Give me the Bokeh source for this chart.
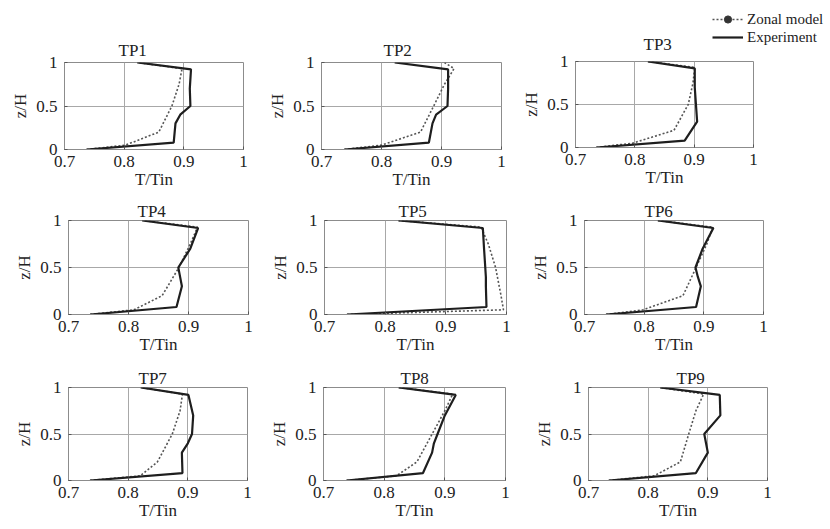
from bokeh.plotting import figure
from bokeh.layouts import column, row
from bokeh.models import Range1d, FixedTicker, CustomJSTickFormatter, Legend, LegendItem, Label
from bokeh.embed import file_html
from bokeh.resources import INLINE

# ---------------- data ----------------
titles = ["TP1", "TP2", "TP3", "TP4", "TP5", "TP6", "TP7", "TP8", "TP9"]
x_label = "T/Tin"
y_label = "z/H"
legend_labels = ["Zonal model", "Experiment"]
x_ticks = [0.7, 0.8, 0.9, 1.0]
y_ticks = [0.0, 0.5, 1.0]

# heights (z/H) of the points of each series
z_exp = [0.0, 0.08, 0.3, 0.4, 0.5, 0.7, 0.92, 1.0]
z_zon = [0.0, 0.05, 0.2, 0.5, 0.75, 0.93, 1.0]

# T/Tin, experiment
exp_tp1 = [0.737, 0.883, 0.886, 0.894, 0.911, 0.910, 0.912, 0.822]
exp_tp2 = [0.738, 0.879, 0.885, 0.891, 0.910, 0.911, 0.911, 0.822]
exp_tp3 = [0.735, 0.884, 0.905, 0.904, 0.903, 0.901, 0.901, 0.822]
exp_tp4 = [0.736, 0.880, 0.889, 0.886, 0.883, 0.903, 0.916, 0.823]
exp_tp5 = [0.737, 0.967, 0.966, 0.966, 0.965, 0.963, 0.961, 0.822]
exp_tp6 = [0.736, 0.887, 0.895, 0.890, 0.886, 0.898, 0.916, 0.823]
exp_tp7 = [0.736, 0.891, 0.890, 0.900, 0.907, 0.909, 0.901, 0.821]
exp_tp8 = [0.738, 0.864, 0.879, 0.882, 0.888, 0.900, 0.918, 0.824]
exp_tp9 = [0.734, 0.880, 0.900, 0.897, 0.894, 0.921, 0.920, 0.820]

# T/Tin, zonal model
zon_tp1 = [0.737, 0.802, 0.858, 0.880, 0.892, 0.897, 0.822]
zon_tp2 = [0.738, 0.800, 0.865, 0.887, 0.905, 0.921, 0.905]
zon_tp3 = [0.735, 0.796, 0.866, 0.890, 0.898, 0.901, 0.822]
zon_tp4 = [0.736, 0.809, 0.856, 0.884, 0.903, 0.915, 0.823]
zon_tp5 = [0.737, 0.995, 0.991, 0.982, 0.970, 0.958, 0.822]
zon_tp6 = [0.736, 0.798, 0.865, 0.887, 0.905, 0.915, 0.823]
zon_tp7 = [0.736, 0.820, 0.849, 0.874, 0.887, 0.891, 0.821]
zon_tp8 = [0.738, 0.820, 0.854, 0.879, 0.900, 0.913, 0.824]
zon_tp9 = [0.734, 0.810, 0.854, 0.868, 0.880, 0.893, 0.820]

exp_all = [exp_tp1, exp_tp2, exp_tp3, exp_tp4, exp_tp5, exp_tp6, exp_tp7, exp_tp8, exp_tp9]
zon_all = [zon_tp1, zon_tp2, zon_tp3, zon_tp4, zon_tp5, zon_tp6, zon_tp7, zon_tp8, zon_tp9]

# ------- layout (left, frame_w, right, top, frame_h, bottom, title_offset, title_standoff) -------
STRIP_H = 53
geom = [
    (64, 179, 19, 62, 87, 46, 54, 5),
    (59, 180, 17, 62, 87, 46, 62, 5),
    (57, 178, 77, 61 - STRIP_H, 86, 48, 0, 0),   # title of panel 3 sits in the strip above
    (68, 180, 16, 25, 94, 46, 69, 0),
    (60, 182, 22, 25, 94, 46, 74, 0),
    (54, 179, 69, 25, 94, 46, 60, 0),
    (68, 179, 18, 27, 93, 49, 70, 0),
    (58, 182, 27, 27, 93, 49, 77, 0),
    (55, 179, 64, 27, 93, 49, 88, 0),
]

FONT = "Liberation Serif"
TXT = "#222222"
ZON_STYLE = dict(line_color="#555555", line_width=1.6, line_dash="2 2")
EXP_STYLE = dict(line_color="#1e1e1e", line_width=2.2)
fmt_code = "return String(parseFloat(tick.toFixed(2)));"


def style_title(t, text, offset, standoff):
    t.text = text
    t.align = "left"
    t.offset = offset
    t.standoff = standoff
    t.text_font = FONT
    t.text_font_size = "17px"
    t.text_font_style = "normal"
    t.text_color = TXT


def blank(fig):
    fig.outline_line_color = None
    fig.background_fill_color = "white"
    fig.border_fill_color = "white"
    fig.xgrid.visible = False
    fig.ygrid.visible = False


figs = []
for i in range(9):
    L, FW, R, T, FH, B, toff, tst = geom[i]
    p = figure(frame_width=FW, frame_height=FH, output_backend="svg", toolbar_location=None,
               x_range=Range1d(0.7, 1.0), y_range=Range1d(0.0, 1.0),
               min_border_left=L, min_border_right=R, min_border_top=T, min_border_bottom=B)
    if i != 2:
        style_title(p.title, titles[i], toff, tst)

    p.background_fill_color = "white"
    p.border_fill_color = "white"
    p.outline_line_color = "#8c8c8c"
    p.outline_line_width = 1

    for ax, ticks, lab in ((p.xaxis[0], x_ticks, x_label), (p.yaxis[0], y_ticks, y_label)):
        ax.ticker = FixedTicker(ticks=ticks)
        ax.formatter = CustomJSTickFormatter(code=fmt_code)
        ax.axis_label = lab
        ax.axis_label_text_font = FONT
        ax.axis_label_text_font_size = "17px"
        ax.axis_label_text_font_style = "normal"
        ax.axis_label_text_color = TXT
        ax.major_label_text_font = FONT
        ax.major_label_text_font_size = "17px"
        ax.major_label_text_color = TXT
        ax.axis_line_color = "#8c8c8c"
        ax.major_tick_line_color = "#555555"
        ax.major_tick_in = 3
        ax.major_tick_out = 0
        ax.minor_tick_line_color = None
    p.xaxis.major_label_standoff = 6
    p.xaxis.axis_label_standoff = 0
    p.yaxis.major_label_standoff = 7
    p.yaxis.axis_label_standoff = 3

    p.xgrid.ticker = FixedTicker(ticks=x_ticks)
    p.ygrid.ticker = FixedTicker(ticks=y_ticks)
    for g in (p.xgrid[0], p.ygrid[0]):
        g.grid_line_color = "#a8a8a8"
        g.grid_line_width = 1

    p.line(zon_all[i], z_zon, **ZON_STYLE)
    p.line(exp_all[i], z_exp, **EXP_STYLE)
    figs.append(p)

# ---- strip above panel 3: its title (left part) and the legend (right part) ----
LEG_MARGIN = 10
t3 = figure(width=194 - LEG_MARGIN, height=STRIP_H, output_backend="svg", toolbar_location=None,
            x_axis_location=None, y_axis_location=None,
            min_border_left=0, min_border_right=0, min_border_top=0, min_border_bottom=0)
blank(t3)
t3.add_layout(Label(x=125, y=0, x_units="screen", y_units="screen", text=titles[2],
                    text_font=FONT, text_font_size="17px", text_color=TXT,
                    text_baseline="bottom", text_align="left"))

lf = figure(width=118 + LEG_MARGIN, height=STRIP_H, output_backend="svg", toolbar_location=None,
            x_axis_location=None, y_axis_location=None,
            x_range=Range1d(0.0, 0.1), y_range=Range1d(0.0, 1.0),
            min_border_left=0, min_border_right=0, min_border_top=0, min_border_bottom=0)
blank(lf)
# legend sample glyphs (their data lie outside this strip's ranges, so only the legend shows)
l_zon = lf.line(zon_tp3, z_zon, **ZON_STYLE)
l_dot = lf.scatter(zon_tp3, z_zon, marker="circle", size=4, color="#333333")
l_exp = lf.line(exp_tp3, z_exp, **EXP_STYLE)
leg = Legend(items=[LegendItem(label=legend_labels[0], renderers=[l_zon, l_dot]),
                    LegendItem(label=legend_labels[1], renderers=[l_exp])],
             location="top_left", orientation="vertical",
             glyph_width=31, glyph_height=18, label_height=18, spacing=0,
             label_standoff=4, padding=0, margin=LEG_MARGIN,
             label_text_font=FONT, label_text_font_size="15px", label_text_color=TXT,
             background_fill_alpha=0, border_line_alpha=0)
lf.add_layout(leg, "center")

layout = column(row(figs[0], figs[1], column(row(t3, lf), figs[2])),
                row(figs[3], figs[4], figs[5]),
                row(figs[6], figs[7], figs[8]))

open("out.html", "w").write(file_html(layout, INLINE))
